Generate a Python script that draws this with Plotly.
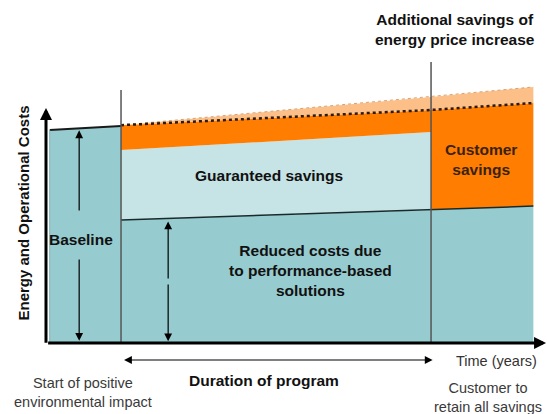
import plotly.graph_objects as go

# ---- data (time in years, cost in relative units) ----
baseline_years = [-2.3, 0]
baseline_cost = [98.2, 100.0]

years = [0, 10, 13.3]                     # program start, program end, later
reduced_cost = [56.7, 61.3, 63.1]          # costs with performance-based solutions
guaranteed_top = [88.9, 97.2]              # top of guaranteed savings (program years)
cost_without_program = [100.4, 107.4, 110.6]   # dotted line
cost_with_price_increase = [100.4, 113.4, 118.0]

program_start, program_end = years[0], years[1]
vline_tops = [116.6, 129.5]

TEAL = "#96cbcf"
LIGHT_BLUE = "#c6e3e5"
ORANGE = "#ff7d00"
LIGHT_ORANGE = "#fbbf87"
FONT = "Liberation Sans, Arial, sans-serif"

W, H = 547, 414
PLOT_L, PLOT_R, PLOT_T, PLOT_B = 46, 547, 8, 343   # plot area in page pixels

def px_paper(px, py):
    return (px - PLOT_L) / (PLOT_R - PLOT_L), (PLOT_B - py) / (PLOT_B - PLOT_T)

fig = go.Figure()

def poly(xs, ys, color):
    fig.add_trace(go.Scatter(x=xs, y=ys, fill="toself", fillcolor=color, mode="lines",
                             line=dict(width=0, color=color), hoverinfo="skip", showlegend=False))

def line(xs, ys, color, width, dash="solid"):
    fig.add_trace(go.Scatter(x=xs, y=ys, mode="lines", line=dict(color=color, width=width, dash=dash),
                             hoverinfo="skip", showlegend=False))

# baseline block
poly([baseline_years[0], baseline_years[0], baseline_years[1], baseline_years[1]],
     [0, baseline_cost[0], baseline_cost[1], 0], TEAL)
# reduced costs
poly([years[0]] + years + [years[-1]], [0] + reduced_cost + [0], TEAL)
# guaranteed savings
poly([years[0], years[1], years[1], years[0]],
     [reduced_cost[0], reduced_cost[1], guaranteed_top[1], guaranteed_top[0]], LIGHT_BLUE)
# customer savings (orange)
poly([years[0], years[1], years[1], years[2], years[2], years[1], years[0]],
     [guaranteed_top[0], guaranteed_top[1], reduced_cost[1], reduced_cost[2],
      cost_without_program[2], cost_without_program[1], cost_without_program[0]], ORANGE)
# additional savings of energy price increase
poly(years + years[::-1], cost_without_program + cost_with_price_increase[::-1], LIGHT_ORANGE)

# outlines
line(baseline_years, baseline_cost, "#1a1a1a", 2)
line(years, reduced_cost, "#1a2a2a", 1.5)
line(years, cost_with_price_increase, "#d9a070", 1, "dot")
line(years, cost_without_program, "#2a1a10", 2.5, "dot")
line([baseline_years[0], baseline_years[0]], [0, baseline_cost[0]], "#7fb3b7", 1)
line([program_start, program_start], [0, vline_tops[0]], "#555555", 1.5)
line([program_end, program_end], [0, vline_tops[1]], "#555555", 1.5)

ann = []
def arrow(x, y, ax, ay, width, size=1.0, side="end"):
    ann.append(dict(x=x, y=y, ax=ax, ay=ay, xref="x", yref="y", axref="x", ayref="y",
                    showarrow=True, arrowhead=2, arrowsize=size, arrowwidth=width,
                    arrowcolor="#000000", arrowside=side, text=""))

# axes with arrows
arrow(-2.42, 108.3, -2.42, -0.6, 3, 0.8)
arrow(13.71, 0, -2.4, 0, 3, 0.8)
# baseline arrow (split by label)
arrow(-1.35, 98.0, -1.35, 60.4, 1.2, 1.3)
arrow(-1.35, 1.0, -1.35, 39.2, 1.2, 1.3)
# reduced costs arrow
arrow(1.52, 56.0, 1.52, 29.0, 1.2, 1.3)
arrow(1.52, 0.8, 1.52, 27.6, 1.2, 1.3)
# duration of program arrow (below the axis)
_, dur_y = px_paper(0, 360)
ann.append(dict(x=program_end + 0.05, y=dur_y, xref="x", yref="paper",
                ax=program_start + 0.05, ay=0, axref="x", ayref="pixel",
                showarrow=True, arrowhead=2, arrowsize=1.3, arrowwidth=1.2,
                arrowcolor="#000000", arrowside="end+start", text=""))

def text(x, y, s, size=15.5, bold=True, color="#111111", angle=0):
    ann.append(dict(x=x, y=y, xref="x", yref="y", text=f"<b>{s}</b>" if bold else s,
                    showarrow=False, textangle=angle, align="center",
                    xanchor="center", yanchor="middle",
                    font=dict(family=FONT, size=size, color=color)))

def ptext(px, py, s, size=15, bold=True, color="#111111", angle=0):
    x, y = px_paper(px, py)
    ann.append(dict(x=x, y=y, xref="paper", yref="paper", text=f"<b>{s}</b>" if bold else s,
                    showarrow=False, textangle=angle, align="center",
                    xanchor="center", yanchor="middle",
                    font=dict(family=FONT, size=size, color=color)))

text(10.77, 144.7, "Additional savings of<br>energy price increase", 15.5)
text(11.6, 84.8, "Customer<br>savings", 15.5, color="#3a2210")
text(4.76, 77.0, "Guaranteed savings", 15.5)
text(-1.29, 47.9, "Baseline", 15.5)
text(6.1, 33.4, "Reduced costs due<br>to performance-based<br>solutions", 15.5)
ptext(23, 213.5, "Energy and Operational Costs", 15, angle=-90)
ptext(496, 361, "Time (years)", 14.5, bold=False, color="#333333")
ptext(264, 380, "Duration of program", 15.5)
ptext(83, 392.5, "Start of positive<br>environmental impact", 14.5, bold=False, color="#3a3a3a")
ptext(487.5, 397, "Customer to<br>retain all savings", 14.5, bold=False, color="#3a3a3a")

fig.update_layout(
    width=W, height=H, margin=dict(l=PLOT_L, r=W - PLOT_R, t=PLOT_T, b=H - PLOT_B),
    paper_bgcolor="white", plot_bgcolor="white",
    xaxis=dict(range=[-2.42, 13.74], visible=False),
    yaxis=dict(range=[0, (PLOT_B - PLOT_T) / 2.1697], visible=False),
    annotations=ann, showlegend=False,
)

fig.write_html("out.html", config={"displayModeBar": False},
               post_script="document.body.style.margin='0';document.documentElement.style.overflow='hidden';")
